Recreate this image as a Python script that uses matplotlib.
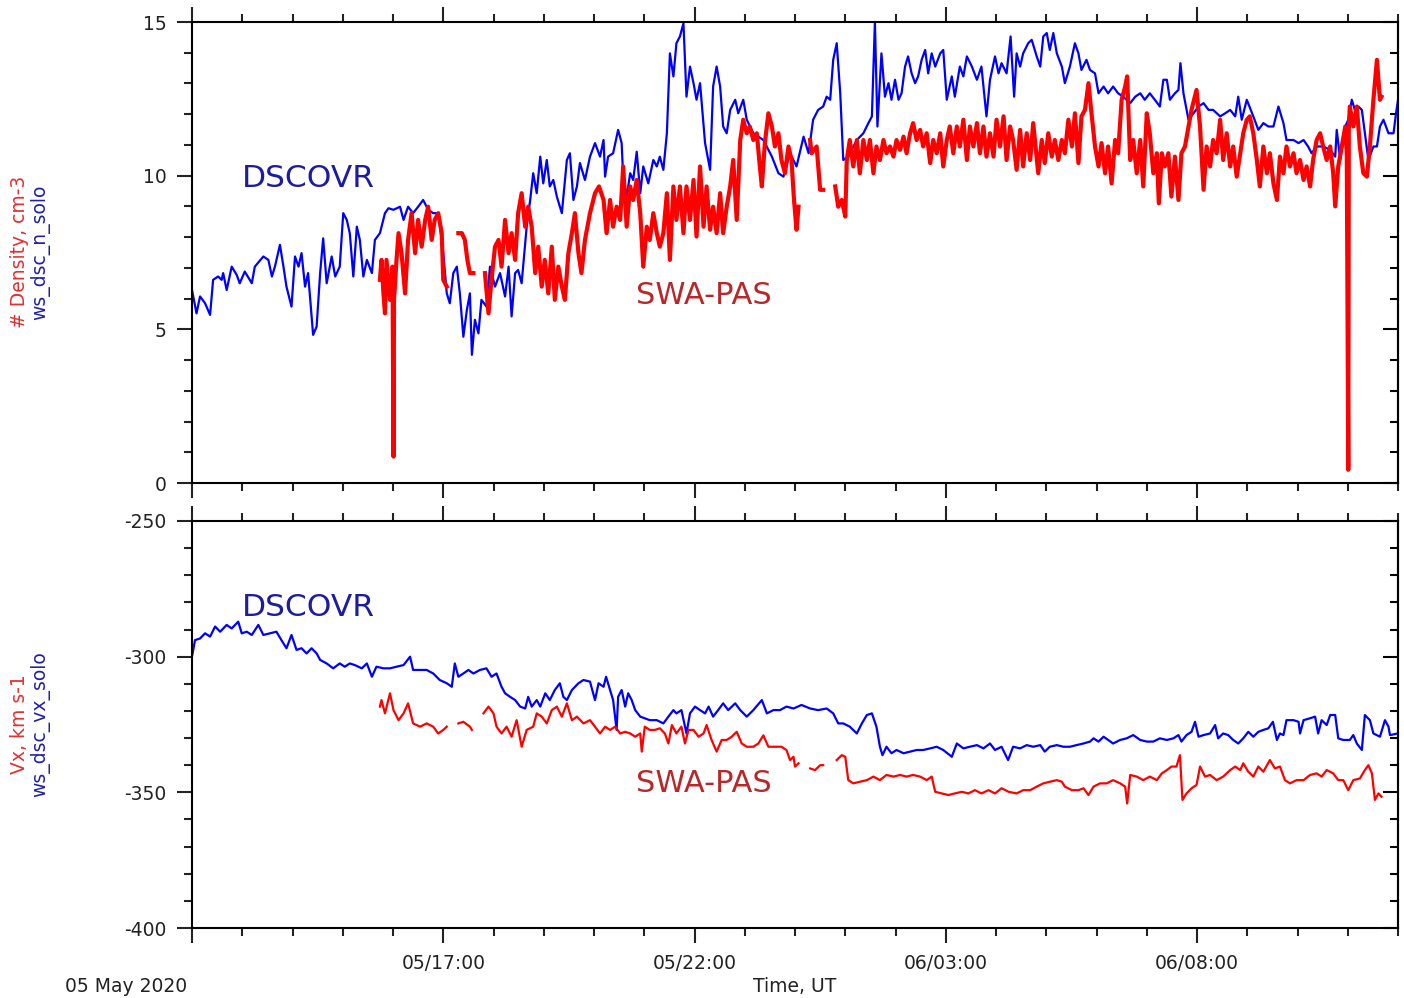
import numpy as np
import matplotlib
matplotlib.use("Agg")
import matplotlib.pyplot as plt
from matplotlib.ticker import MultipleLocator, FuncFormatter

nan = np.nan

# hours since 05 May 2020 12:00 UT
# --- density, DSCOVR ---
dsc_n_t = [0.00, 0.09, 0.16, 0.26, 0.36, 0.42, 0.52, 0.59, 0.62, 0.69, 0.79, 0.89, 0.95, 1.05, 1.19, 1.25,
           1.42, 1.52, 1.59, 1.65, 1.75, 1.82, 1.88, 1.98, 2.05, 2.12, 2.18, 2.25, 2.31, 2.41, 2.48, 2.55,
           2.61, 2.68, 2.78, 2.85, 2.94, 3.01, 3.08, 3.14, 3.21, 3.28, 3.34, 3.41, 3.48, 3.58, 3.64, 3.74,
           3.84, 3.91, 4.01, 4.14, 4.21, 4.30, 4.40, 4.50, 4.60, 4.70, 4.80, 4.90, 5.00, 5.07, 5.13, 5.20,
           5.27, 5.33, 5.40, 5.47, 5.53, 5.57, 5.63, 5.70, 5.76, 5.86, 5.93, 6.03, 6.13, 6.23, 6.30, 6.36,
           6.43, 6.49, 6.56, 6.66, 6.73, 6.79, 6.86, 6.93, 6.99, 7.06, 7.12, 7.19, 7.26, 7.36, 7.46, 7.52,
           7.59, 7.66, 7.72, 7.82, 7.92, 8.02, 8.12, 8.19, 8.22, 8.28, 8.38, 8.48, 8.55, 8.58, 8.65, 8.72,
           8.78, 8.85, 8.92, 8.98, 9.08, 9.18, 9.25, 9.31, 9.38, 9.45, 9.51, 9.58, 9.64, 9.71, 9.78, 9.84,
           9.91, 9.98, 10.04, 10.11, 10.21, 10.31, 10.37, 10.44, 10.51, 10.57, 10.64, 10.71, 10.81, 10.87,
           10.97, 11.04, 11.17, 11.37, 11.54, 11.67, 11.77, 11.90, 12.03, 12.17, 12.27, 12.36, 12.46, 12.56,
           12.63, 12.70, 12.76, 12.83, 12.90, 12.96, 13.06, 13.23, 13.36, 13.46, 13.53, 13.59, 13.64, 13.72,
           13.79, 13.86, 13.92, 13.99, 14.06, 14.12, 14.19, 14.25, 14.32, 14.39, 14.45, 14.52, 14.59, 14.65,
           14.72, 14.79, 14.89, 14.95, 15.02, 15.12, 15.18, 15.28, 15.35, 15.42, 15.52, 15.62, 15.71, 15.81,
           15.88, 15.98, 16.05, 16.11, 16.21, 16.29, 16.36, 16.41, 16.48, 16.54, 16.64, 16.71, 16.81, 16.88,
           16.94, 17.01, 17.07, 17.14, 17.21, 17.31, 17.37, 17.47, 17.57, 17.64, 17.70, 17.80, 17.87, 17.97,
           18.04, 18.14, 18.23, 18.33, 18.43, 18.53, 18.67, 18.77, 18.87, 18.96, 19.06, 19.16, 19.26, 19.33,
           19.40, 19.46, 19.56, 19.63, 19.67, 19.73, 19.83, 19.93, 20.03, 20.13, 20.23, 20.32, 20.46, 20.56,
           20.66, 20.76, 20.82, 20.89, 20.99, 21.12, 21.22, 21.32, 21.42, 21.52, 21.62, 21.72, 21.78, 21.92,
           22.02, 22.12, 22.21, 22.28, 22.38, 22.51, 22.65, 22.75, 22.78, 22.85, 22.95, 23.01, 23.08, 23.14,
           23.21, 23.28, 23.34, 23.41, 23.51, 23.58, 23.64, 23.71, 23.81, 23.91, 23.96, 24.00]
dsc_n = [6.28, 5.52, 6.07, 5.85, 5.47, 6.61, 6.72, 6.61, 6.83, 6.28, 7.04, 6.77, 6.50, 6.88, 6.50, 7.04,
         7.37, 7.26, 6.72, 7.04, 7.75, 7.04, 6.39, 5.74, 7.37, 7.04, 7.48, 6.39, 6.83, 4.82, 5.09, 6.83,
         7.96, 6.50, 7.37, 6.72, 7.04, 8.78, 8.56, 8.13, 6.72, 8.34, 7.91, 6.72, 7.26, 6.83, 7.91, 8.13,
         8.78, 8.94, 8.89, 8.99, 8.56, 8.99, 8.78, 8.99, 9.21, 8.89, 8.78, 8.78, 7.48, 6.17, 5.85, 6.83,
         7.04, 6.17, 4.76, 5.63, 6.17, 4.17, 5.31, 4.87, 5.96, 5.74, 7.04, 6.39, 6.83, 6.07, 7.04, 5.42,
         6.83, 6.93, 6.50, 8.34, 9.21, 10.08, 9.43, 10.62, 9.75, 10.51, 9.65, 9.86, 9.32, 8.78, 10.51, 10.73,
         9.21, 9.65, 10.41, 9.86, 10.62, 11.06, 10.62, 11.16, 9.97, 10.62, 10.73, 11.49, 11.06, 9.97, 9.32, 10.08,
         9.86, 10.78, 9.43, 10.30, 9.75, 10.51, 10.30, 10.62, 10.19, 11.38, 13.98, 13.23, 14.31, 14.53, 14.96, 12.57,
         13.55, 13.01, 12.47, 13.01, 11.06, 10.19, 12.90, 13.55, 12.90, 11.60, 11.38, 12.14, 12.47, 12.03,
         12.47, 11.82, 11.38, 11.16, 10.62, 10.08, 9.97, 10.73, 10.30, 11.27, 10.73, 11.82, 12.14, 12.25,
         12.57, 12.47, 13.77, 14.31, 12.68, 10.51, 10.62, 11.16, 11.38, 11.71, 11.93, 15.02, 11.60, 13.98,
         12.57, 13.01, 12.47, 13.12, 12.47, 12.68, 13.55, 13.88, 13.33, 13.01, 13.23, 13.77, 14.09, 13.33,
         13.98, 13.55, 13.98, 14.09, 12.47, 13.23, 12.57, 13.55, 13.23, 13.88, 13.55, 13.12, 13.55, 11.93,
         13.12, 13.88, 13.33, 13.66, 13.33, 14.53, 12.57, 13.98, 13.55, 13.98, 14.31, 14.42, 13.88, 13.55,
         14.53, 14.64, 14.09, 14.64, 13.98, 13.55, 13.01, 13.55, 14.31, 13.98, 13.44, 13.77, 13.44, 13.33,
         12.68, 12.90, 12.68, 12.90, 12.68, 12.57, 12.36, 12.57, 12.68, 12.47, 12.68, 12.47, 12.25, 13.12,
         13.12, 12.47, 12.68, 12.79, 13.66, 12.68, 11.82, 12.03, 12.25, 12.36, 12.14, 12.14, 11.93, 12.03,
         12.14, 11.93, 12.57, 11.82, 12.47, 11.93, 11.49, 11.71, 11.60, 11.60, 12.25, 11.71, 11.16, 11.16,
         11.06, 11.16, 10.95, 10.73, 10.95, 10.95, 10.84, 10.62, 11.49, 10.51, 11.60, 11.82, 12.47, 12.14,
         12.25, 12.14, 11.38, 10.51, 10.95, 10.95, 11.60, 11.82, 11.38, 11.38, 12.03, 12.47]

# --- density, SWA-PAS (Solar Orbiter) ---
pas_n_t = [3.74, 3.77, 3.81, 3.84, 3.87, 3.94, 3.99, 4.01, 4.02, 4.07, 4.11, 4.17, 4.24, 4.30, 4.37, 4.44,
           4.50, 4.57, 4.64, 4.70, 4.77, 4.83, 4.90, 4.97, 5.00, 5.07, 5.15, 5.30, 5.37, 5.43, 5.48, 5.53,
           5.60, 5.70, 5.83, 5.90, 5.96, 6.03, 6.10, 6.16, 6.23, 6.30, 6.36, 6.43, 6.49, 6.56, 6.63, 6.69,
           6.76, 6.83, 6.89, 6.96, 7.02, 7.09, 7.16, 7.22, 7.29, 7.36, 7.42, 7.49, 7.56, 7.62, 7.69, 7.75,
           7.82, 7.92, 8.02, 8.10, 8.19, 8.25, 8.32, 8.38, 8.45, 8.52, 8.58, 8.65, 8.72, 8.78, 8.85, 8.92,
           8.98, 9.05, 9.11, 9.18, 9.25, 9.31, 9.38, 9.45, 9.51, 9.58, 9.64, 9.71, 9.78, 9.84, 9.91, 9.98,
           10.04, 10.11, 10.18, 10.24, 10.31, 10.37, 10.44, 10.51, 10.57, 10.64, 10.71, 10.77, 10.84, 10.91,
           10.97, 11.04, 11.10, 11.17, 11.24, 11.30, 11.34, 11.40, 11.47, 11.54, 11.60, 11.67, 11.73, 11.80,
           11.87, 11.93, 11.98, 12.03, 12.07, 12.18, 12.30, 12.33, 12.43, 12.50, 12.56, 12.68, 12.80, 12.86,
           12.93, 13.00, 13.03, 13.09, 13.16, 13.23, 13.29, 13.36, 13.43, 13.49, 13.56, 13.62, 13.69, 13.76,
           13.82, 13.89, 13.96, 14.02, 14.09, 14.16, 14.22, 14.29, 14.35, 14.42, 14.49, 14.55, 14.62, 14.69,
           14.75, 14.82, 14.89, 14.95, 15.02, 15.08, 15.15, 15.22, 15.28, 15.35, 15.42, 15.48, 15.55, 15.62,
           15.68, 15.75, 15.81, 15.88, 15.95, 16.01, 16.08, 16.15, 16.21, 16.28, 16.34, 16.41, 16.48, 16.54,
           16.61, 16.68, 16.74, 16.84, 16.91, 16.97, 17.04, 17.11, 17.17, 17.24, 17.31, 17.37, 17.44, 17.51,
           17.57, 17.64, 17.70, 17.77, 17.84, 17.90, 17.97, 18.04, 18.10, 18.17, 18.23, 18.30, 18.37, 18.43,
           18.50, 18.57, 18.61, 18.67, 18.73, 18.80, 18.87, 18.93, 19.00, 19.06, 19.13, 19.20, 19.24, 19.30,
           19.36, 19.43, 19.49, 19.56, 19.63, 19.69, 19.76, 19.83, 19.89, 19.99, 20.06, 20.13, 20.19, 20.26,
           20.32, 20.39, 20.46, 20.52, 20.59, 20.66, 20.72, 20.79, 20.86, 20.92, 20.99, 21.05, 21.12, 21.19,
           21.25, 21.32, 21.39, 21.45, 21.52, 21.59, 21.65, 21.72, 21.78, 21.85, 21.92, 21.98, 22.05, 22.12,
           22.18, 22.25, 22.31, 22.38, 22.45, 22.51, 22.58, 22.65, 22.71, 22.75, 22.81, 22.88, 22.95, 22.98,
           23.01, 23.02, 23.04, 23.11, 23.18, 23.24, 23.31, 23.38, 23.44, 23.51, 23.58, 23.64, 23.67]
pas_n = [6.61, 7.26, 6.17, 5.52, 7.26, 5.96, 7.04, 0.86, 5.96, 7.26, 8.13, 7.48, 6.17, 7.91, 8.78, 7.48,
         8.56, 7.69, 8.56, 8.99, 7.91, 8.56, 8.78, 8.13, 6.61, 6.39, nan, 8.13, 8.13, 7.91, 7.26, 6.83,
         6.83, nan, 6.83, 5.52, 6.61, 7.69, 7.91, 7.04, 8.56, 7.48, 8.13, 7.26, 8.78, 9.43, 8.34, 8.99,
         8.34, 6.83, 7.69, 6.39, 7.26, 6.17, 7.69, 5.96, 7.04, 6.39, 5.96, 7.48, 8.13, 8.78, 7.48, 6.83,
         7.91, 8.78, 9.43, 9.65, 9.21, 8.13, 9.21, 8.34, 8.99, 8.56, 10.30, 8.34, 9.65, 9.21, 9.86, 8.78,
         7.04, 8.34, 7.91, 8.78, 8.13, 7.69, 8.13, 9.43, 7.26, 9.65, 8.56, 9.65, 8.13, 9.65, 8.56, 9.86,
         8.02, 10.30, 8.34, 9.65, 8.24, 8.99, 8.13, 9.43, 8.13, 8.99, 9.65, 10.51, 8.56, 11.16,
         11.82, 11.38, 11.60, 11.16, 11.38, 10.30, 9.65, 11.06, 12.03, 11.60, 10.95, 11.38, 10.51, 10.08,
         10.95, 10.51, 9.21, 8.24, 8.99, nan, 11.16, 10.73, 10.95, 9.54, 9.54, nan, 9.65, 8.99,
         9.21, 8.67, 10.51, 11.16, 10.30, 11.16, 10.08, 11.16, 10.51, 11.16, 10.08, 10.95, 10.51, 11.16,
         10.73, 10.95, 10.62, 11.16, 10.84, 11.27, 10.73, 11.38, 11.71, 11.16, 11.49, 10.95, 11.38, 10.41,
         11.16, 10.73, 11.38, 10.30, 11.16, 11.60, 10.73, 11.60, 10.95, 11.82, 10.51, 11.60, 10.95, 11.71,
         10.73, 11.60, 10.62, 11.38, 10.62, 11.82, 10.95, 11.93, 10.51, 11.60, 11.16, 10.19, 11.49, 10.30,
         11.38, 10.51, 11.71, 10.08, 11.16, 10.41, 11.38, 10.62, 11.16, 10.51, 11.16, 10.73, 11.82, 10.95,
         12.03, 10.41, 11.93, 12.14, 13.01, 12.03, 10.95, 10.30, 11.06, 10.08, 10.95, 9.75, 11.16, 10.73,
         12.47, 12.90, 13.23, 10.51, 11.16, 10.08, 11.16, 9.65, 12.03, 11.38, 10.08, 10.73, 9.10, 10.73,
         10.30, 10.73, 9.32, 10.62, 9.21, 10.73, 10.95, 11.60, 12.14, 12.79, 11.60, 9.54, 10.95, 10.30,
         11.16, 10.73, 11.82, 10.51, 11.38, 10.30, 10.95, 9.97, 10.73, 11.38, 11.82, 11.93, 11.38, 10.51,
         9.65, 10.95, 10.08, 10.73, 9.75, 9.21, 10.62, 10.08, 10.95, 10.30, 10.73, 10.08, 10.51, 9.86,
         10.30, 9.65, 10.51, 11.16, 11.38, 10.95, 10.51, 10.95, 10.08, 9.00, 10.30, 10.95, 11.60, 10.73,
         0.43, 11.50, 12.25, 11.60, 12.25, 10.95, 10.08, 9.97, 10.95, 12.47, 13.77, 12.47, 12.57]

# --- Vx, DSCOVR ---
dsc_v_t = [0.00, 0.06, 0.16, 0.26, 0.36, 0.46, 0.56, 0.69, 0.79, 0.92, 0.99, 1.09, 1.19, 1.32, 1.42, 1.55,
           1.68, 1.78, 1.88, 1.98, 2.08, 2.18, 2.28, 2.38, 2.48, 2.55, 2.68, 2.81, 2.94, 3.04, 3.14, 3.24,
           3.38, 3.48, 3.58, 3.67, 3.81, 3.94, 4.07, 4.21, 4.34, 4.40, 4.54, 4.67, 4.80, 4.93, 5.07, 5.17,
           5.23, 5.30, 5.40, 5.50, 5.60, 5.73, 5.86, 5.96, 6.06, 6.16, 6.23, 6.33, 6.43, 6.53, 6.63, 6.69,
           6.76, 6.86, 6.93, 7.03, 7.12, 7.22, 7.32, 7.39, 7.46, 7.56, 7.69, 7.79, 7.92, 8.02, 8.09, 8.19,
           8.24, 8.32, 8.38, 8.45, 8.48, 8.55, 8.62, 8.68, 8.75, 8.82, 8.92, 9.01, 9.11, 9.25, 9.38, 9.48,
           9.58, 9.64, 9.74, 9.84, 9.91, 10.01, 10.11, 10.21, 10.28, 10.37, 10.47, 10.57, 10.67, 10.81, 10.91,
           11.04, 11.17, 11.34, 11.44, 11.57, 11.70, 11.83, 11.97, 12.13, 12.30, 12.46, 12.63, 12.76, 12.86,
           12.96, 13.09, 13.23, 13.33, 13.43, 13.53, 13.62, 13.69, 13.74, 13.82, 13.92, 14.02, 14.16, 14.29,
           14.42, 14.55, 14.69, 14.82, 14.95, 15.12, 15.22, 15.35, 15.48, 15.62, 15.75, 15.88, 15.98, 16.11,
           16.24, 16.34, 16.48, 16.61, 16.74, 16.88, 16.97, 17.07, 17.21, 17.34, 17.47, 17.60, 17.74, 17.87,
           17.94, 18.04, 18.14, 18.23, 18.33, 18.47, 18.60, 18.73, 18.87, 19.00, 19.13, 19.26, 19.40, 19.53,
           19.63, 19.69, 19.79, 19.89, 19.96, 20.03, 20.13, 20.26, 20.36, 20.42, 20.52, 20.62, 20.72, 20.82,
           20.92, 21.02, 21.12, 21.22, 21.32, 21.42, 21.51, 21.59, 21.65, 21.72, 21.78, 21.92, 22.02, 22.05,
           22.12, 22.25, 22.35, 22.41, 22.48, 22.58, 22.65, 22.75, 22.81, 22.91, 23.04, 23.11, 23.18, 23.28,
           23.34, 23.44, 23.51, 23.64, 23.74, 23.81, 23.84, 24.00]
dsc_v = [-300.0, -293.9, -293.3, -291.4, -292.6, -288.9, -290.8, -288.3, -289.6, -287.1, -291.4, -290.8, -292.0,
         -288.3, -292.0, -291.4, -290.8, -293.9, -296.9, -292.0, -297.5, -296.9, -298.8, -296.9, -298.8, -301.2,
         -302.5, -304.3, -302.5, -303.7, -302.5, -303.1, -304.3, -302.5, -307.4, -303.7, -304.3, -304.3, -303.7,
         -303.1, -300.0, -304.9, -304.9, -304.9, -306.2, -308.6, -309.8, -311.1, -302.5, -307.4, -306.2, -304.9,
         -306.2, -304.9, -304.3, -307.4, -306.2, -311.1, -313.5, -314.8, -316.0, -318.4, -319.1, -314.8, -318.4,
         -316.0, -318.4, -313.5, -316.0, -312.3, -309.8, -314.8, -316.0, -312.3, -309.8, -308.6, -309.2, -316.0,
         -309.8, -311.1, -307.4, -312.3, -316.0, -327.0, -314.8, -312.3, -318.4, -313.5, -316.0, -319.7, -322.1,
         -322.7, -323.4, -323.4, -324.6, -322.1, -319.7, -320.9, -319.7, -328.3, -320.9, -318.4, -319.7, -320.9,
         -318.4, -322.1, -319.7, -317.2, -319.7, -317.2, -319.7, -322.1, -319.7, -316.0, -320.9, -319.7, -319.7,
         -318.4, -319.1, -317.8, -319.1, -319.7, -319.1, -320.9, -324.6, -324.6, -325.8, -328.3, -324.6, -321.5,
         -320.9, -325.8, -333.2, -336.3, -333.2, -335.6, -334.4, -335.6, -335.0, -334.4, -334.4, -333.8, -333.2,
         -334.4, -336.9, -332.0, -333.8, -333.2, -332.6, -333.8, -332.0, -334.4, -333.2, -338.1, -333.2, -333.8,
         -332.6, -333.2, -332.6, -335.0, -333.2, -332.6, -333.2, -333.2, -332.6, -332.0, -331.3, -330.1, -331.3,
         -329.5, -330.7, -332.0, -330.7, -330.1, -328.9, -330.7, -331.3, -331.3, -330.1, -330.7, -330.1, -328.9,
         -331.3, -328.9, -327.7, -324.0, -329.5, -328.9, -328.3, -325.2, -330.1, -328.3, -328.9, -330.7, -332.0,
         -330.1, -327.7, -329.5, -327.7, -327.0, -326.4, -324.0, -330.7, -328.3, -328.9, -323.4, -323.4, -324.0,
         -328.3, -323.4, -322.7, -322.1, -328.3, -323.4, -325.2, -321.5, -321.5, -330.1, -330.7, -330.7, -328.9,
         -332.0, -334.4, -321.5, -323.4, -328.3, -329.5, -323.4, -325.8, -328.9, -328.3]

# --- Vx, SWA-PAS ---
pas_v_t = [3.74, 3.77, 3.84, 3.94, 4.01, 4.11, 4.21, 4.30, 4.40, 4.54, 4.67, 4.80, 4.90, 5.00, 5.07, 5.18,
           5.30, 5.40, 5.53, 5.57, 5.68, 5.80, 5.90, 6.00, 6.06, 6.16, 6.26, 6.36, 6.46, 6.56, 6.66, 6.79,
           6.86, 6.96, 7.06, 7.16, 7.26, 7.36, 7.46, 7.56, 7.66, 7.79, 7.92, 8.02, 8.12, 8.22, 8.32, 8.42,
           8.52, 8.62, 8.72, 8.82, 8.92, 8.95, 9.01, 9.11, 9.21, 9.31, 9.41, 9.48, 9.55, 9.64, 9.74, 9.81,
           9.88, 9.98, 10.08, 10.18, 10.24, 10.34, 10.44, 10.54, 10.64, 10.74, 10.84, 10.94, 11.04, 11.17,
           11.27, 11.37, 11.47, 11.60, 11.73, 11.83, 11.90, 11.97, 12.00, 12.07, 12.18, 12.30, 12.40, 12.50,
           12.56, 12.70, 12.83, 12.93, 13.00, 13.06, 13.16, 13.29, 13.43, 13.56, 13.69, 13.82, 13.96, 14.09,
           14.22, 14.35, 14.49, 14.62, 14.72, 14.79, 14.92, 15.05, 15.18, 15.32, 15.45, 15.58, 15.71, 15.85,
           15.98, 16.11, 16.25, 16.41, 16.54, 16.68, 16.81, 16.94, 17.07, 17.21, 17.31, 17.37, 17.51, 17.64,
           17.74, 17.84, 17.94, 18.07, 18.20, 18.33, 18.47, 18.57, 18.61, 18.67, 18.80, 18.93, 19.06, 19.20,
           19.30, 19.40, 19.49, 19.59, 19.66, 19.71, 19.79, 19.89, 19.99, 20.06, 20.16, 20.26, 20.39, 20.52,
           20.66, 20.76, 20.86, 20.92, 21.02, 21.12, 21.22, 21.32, 21.45, 21.55, 21.65, 21.75, 21.85, 21.98,
           22.12, 22.25, 22.38, 22.48, 22.58, 22.71, 22.81, 22.91, 23.01, 23.11, 23.24, 23.34, 23.41, 23.48,
           23.54, 23.61, 23.67]
pas_v = [-318.4, -316.0, -320.9, -313.5, -319.7, -323.4, -320.9, -317.2, -324.6, -325.8, -324.6, -325.8, -328.3,
         -327.0, -325.8, nan, -324.6, -324.0, -325.8, -327.0, nan, -320.9, -318.4, -320.9, -325.8, -328.3,
         -325.8, -329.5, -323.4, -333.2, -327.0, -325.8, -320.9, -322.1, -324.6, -319.7, -318.4, -322.1, -317.2,
         -323.4, -322.1, -324.6, -323.4, -325.8, -328.3, -325.8, -327.0, -325.8, -328.3, -327.7, -328.3, -329.5,
         -328.3, -335.0, -325.8, -327.0, -327.0, -326.4, -328.3, -332.0, -325.2, -328.3, -325.8, -332.0, -327.0,
         -327.0, -329.5, -328.3, -325.2, -330.7, -335.0, -330.7, -330.7, -329.5, -327.7, -332.0, -333.2, -333.2,
         -332.0, -329.0, -333.2, -333.2, -333.2, -334.4, -338.1, -336.9, -340.5, -339.3, nan, -341.2, -341.8,
         -340.0, -340.0, nan, -338.1, -336.3, -336.9, -345.5, -346.7, -346.1, -345.5, -344.2, -345.5, -343.6,
         -344.2, -343.6, -344.2, -343.6, -344.2, -345.5, -344.2, -349.8, -350.4, -351.0, -350.4, -349.8, -350.4,
         -349.2, -350.4, -349.2, -350.4, -348.5, -349.8, -350.4, -349.2, -349.2, -347.9, -346.7, -346.1, -345.5,
         -346.1, -347.9, -349.2, -349.2, -348.5, -351.0, -347.9, -346.7, -346.7, -345.5, -346.7, -347.9, -354.1,
         -343.6, -344.2, -345.5, -344.2, -345.5, -343.0, -341.8, -340.5, -340.5, -336.3, -352.8, -350.4, -348.5,
         -347.3, -340.5, -344.2, -343.6, -345.5, -344.2, -341.8, -340.5, -341.8, -339.3, -342.4, -344.2, -340.5,
         -342.4, -338.1, -341.2, -340.5, -345.5, -346.7, -345.5, -345.5, -343.6, -343.0, -344.2, -341.8, -343.0,
         -345.5, -345.5, -349.2, -345.5, -344.9, -341.8, -340.0, -343.0, -352.8, -350.4, -351.6]

blue = "#0000ff"
red = "#ff0000"


def time_label(h, pos):
    if h <= 0:
        return ""
    day = 5 + int((12 + h) // 24)
    hour = int((12 + h) % 24)
    return "%02d/%02d:00" % (day, hour)


def style_axis(ax, show_labels):
    ax.set_xlim(0, 24)
    ax.xaxis.set_major_locator(MultipleLocator(5))
    ax.xaxis.set_minor_locator(MultipleLocator(1))
    ax.xaxis.set_major_formatter(FuncFormatter(time_label))
    ax.tick_params(axis="x", which="both", direction="out", top=True, bottom=True,
                   labelbottom=show_labels, width=1.5, pad=8, labelsize=13.5, colors="#222222")
    ax.tick_params(axis="y", which="both", direction="out", left=True, right=False,
                   width=1.5, pad=8, labelsize=13.5, colors="#222222")
    ax.tick_params(which="major", length=10.5)
    ax.tick_params(which="minor", length=5.5)
    for s in ax.spines.values():
        s.set_linewidth(1.5)
    # right side ticks point inward
    sec = ax.secondary_yaxis("right")
    sec.set_yticks(ax.get_yticks())
    sec.yaxis.set_minor_locator(ax.yaxis.get_minor_locator())
    sec.tick_params(which="both", direction="in", labelright=False, width=1.5)
    sec.tick_params(which="major", length=10.5)
    sec.tick_params(which="minor", length=5.5)
    sec.spines["right"].set_linewidth(1.5)


fig = plt.figure(figsize=(14.04, 9.98), dpi=100)
ax1 = fig.add_axes([0.13675, 0.51603, 0.8590, 0.46192])
ax2 = fig.add_axes([0.13675, 0.07014, 0.8590, 0.40782])

# top panel: density
ax1.plot(dsc_n_t, dsc_n, color=blue, lw=1.6, zorder=2)
ax1.plot(pas_n_t, pas_n, color=red, lw=3.0, zorder=3)
ax1.set_ylim(0, 15)
ax1.yaxis.set_major_locator(MultipleLocator(5))
ax1.yaxis.set_minor_locator(MultipleLocator(1))
ax1.yaxis.set_major_formatter(FuncFormatter(lambda v, p: "%d" % v))
style_axis(ax1, False)
ax1.text(1.0, 9.9, "DSCOVR", color="#1c1ca0", fontsize=22.5, ha="left", va="center")
ax1.text(8.84, 6.1, "SWA-PAS", color="#b8282a", fontsize=22, ha="left", va="center")

# bottom panel: Vx
ax2.plot(dsc_v_t, dsc_v, color=blue, lw=1.6, zorder=2)
ax2.plot(pas_v_t, pas_v, color=red, lw=1.6, zorder=3)
ax2.set_ylim(-400, -250)
ax2.yaxis.set_major_locator(MultipleLocator(50))
ax2.yaxis.set_minor_locator(MultipleLocator(10))
ax2.yaxis.set_major_formatter(FuncFormatter(lambda v, p: "%d" % v))
style_axis(ax2, True)
ax2.text(1.0, -281.7, "DSCOVR", color="#1c1ca0", fontsize=22.5, ha="left", va="center")
ax2.text(8.84, -346.9, "SWA-PAS", color="#b8282a", fontsize=22, ha="left", va="center")

# y labels (two colours, one per instrument)
fig.text(20 / 1404, 1 - 252 / 998, "# Density, cm-3", color="#e03030", fontsize=13.5,
         rotation=90, ha="center", va="center")
fig.text(40 / 1404, 1 - 252 / 998, "ws_dsc_n_solo", color="#2020a8", fontsize=13.5,
         rotation=90, ha="center", va="center")
fig.text(20 / 1404, 1 - 724 / 998, "Vx, km s-1", color="#e03030", fontsize=13.5,
         rotation=90, ha="center", va="center")
fig.text(40 / 1404, 1 - 724 / 998, "ws_dsc_vx_solo", color="#2020a8", fontsize=13.5,
         rotation=90, ha="center", va="center")

fig.text(126 / 1404, 1 - 986 / 998, "05 May 2020", color="#222222", fontsize=13.5,
         ha="center", va="center")
fig.text(795 / 1404, 1 - 987 / 998, "Time, UT", color="#222222", fontsize=13.5,
         ha="center", va="center")

fig.savefig("out.png", dpi=100)
